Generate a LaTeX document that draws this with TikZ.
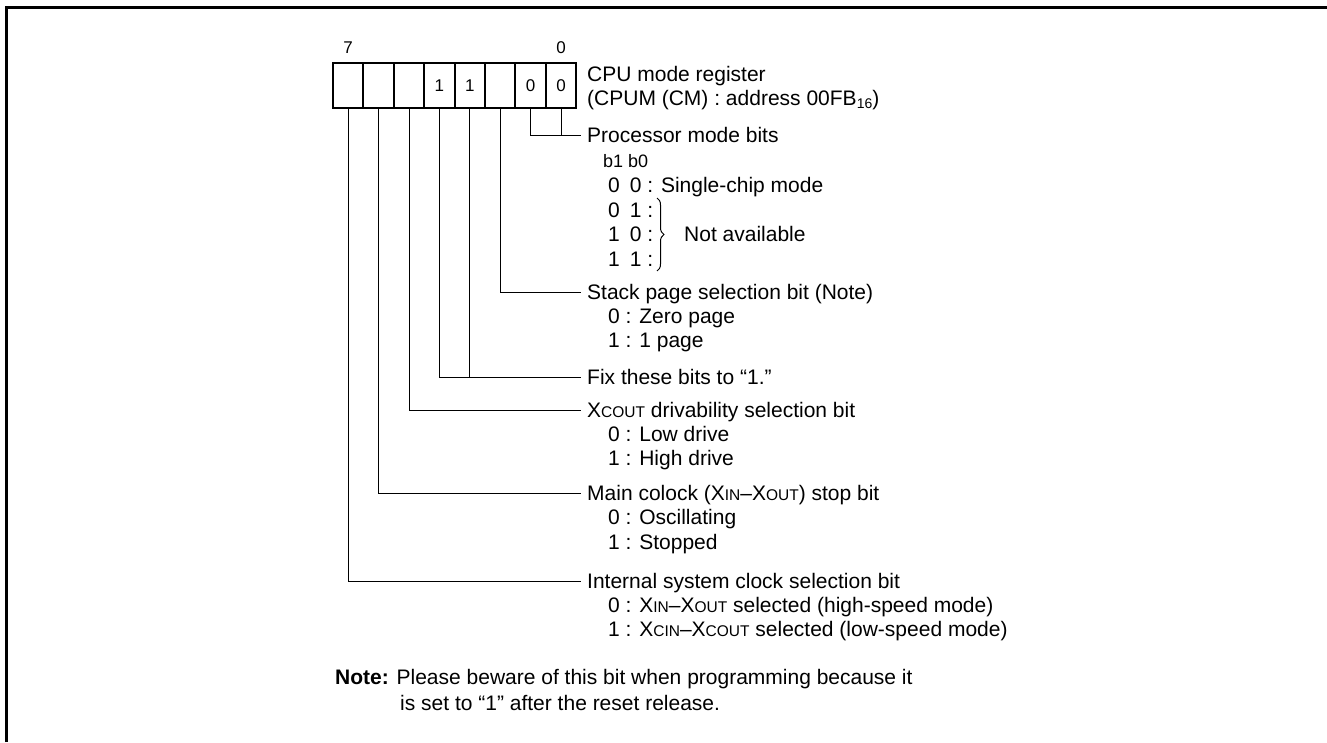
\documentclass[tikz,border=0pt]{standalone}
\usepackage{fontspec}
\setmainfont{Liberation Sans}
\usetikzlibrary{decorations.pathreplacing}
\newcommand\smc[1]{{\fontsize{15.5pt}{15.5pt}\selectfont #1}}
\newcommand\subn[1]{\raisebox{-3pt}{\fontsize{14pt}{14pt}\selectfont #1}}
\newcommand\dg{\hspace{10pt}}
\begin{document}
\begin{tikzpicture}[x=1pt,y=-1pt,
  lbl/.style={anchor=west, inner xsep=6pt, inner ysep=0pt, text height=15pt, text depth=0pt, font=\fontsize{21pt}{24pt}\selectfont},
  smlbl/.style={anchor=west, inner xsep=6pt, inner ysep=0pt, text height=13pt, text depth=0pt, font=\fontsize{18pt}{20pt}\selectfont},
  cell/.style={draw, line width=2pt, minimum width=30.4pt, minimum height=45.5pt, inner sep=0pt, outer sep=0pt, font=\fontsize{17pt}{17pt}\selectfont},
  bitlab/.style={inner sep=0pt, font=\fontsize{17pt}{17pt}\selectfont},
  lead/.style={line width=1pt},
  frame/.style={line width=3pt}]
\useasboundingbox (0,0) rectangle (1327,742);
% outer frame
\draw[frame] (6.5,742) -- (6.5,7.5) -- (1327,7.5);
% register
\node[cell] (c7) at (348.2,85.5) {};
\node[cell] (c6) at (378.6,85.5) {};
\node[cell] (c5) at (409.0,85.5) {};
\node[cell] (c4) at (439.4,85.5) {1};
\node[cell] (c3) at (469.8,85.5) {1};
\node[cell] (c2) at (500.2,85.5) {};
\node[cell] (c1) at (530.6,85.5) {0};
\node[cell] (c0) at (561.0,85.5) {0};
\node[bitlab] (l7) at (348.2,48) {7};
\node[bitlab] (l0) at (561.0,48) {0};
% texts
\node[lbl] (cpu1) at (581,73.5) {CPU mode register};
\node[lbl] (cpu2) at (581,97.5) {(CPUM (CM) : address 00FB\subn{16})};
\node[lbl] (proc) at (581,135) {Processor mode bits};
\node[smlbl] (bb) at (597,161) {b1 b0};
\node[lbl] (m00) at (602,185) {0\dg0 : Single-chip mode};
\node[lbl] (m01) at (602,209.5) {0\dg1 :};
\node[lbl] (m10) at (602,234) {1\dg0 :};
\node[lbl] (m11) at (602,258.5) {1\dg1 :};
\draw[lead, decorate, decoration={brace, amplitude=7pt}] (657,198) -- (657,271);
\node[lbl] (na) at (678,234) {Not available};
\node[lbl] (stack) at (581,292) {Stack page selection bit (Note)};
\node[lbl] (s0) at (602,315.5) {0 : Zero page};
\node[lbl] (s1) at (602,340) {1 : 1 page};
\node[lbl] (fix) at (581,377) {Fix these bits to “1.”};
\node[lbl] (xc) at (581,410) {X\smc{COUT} drivability selection bit};
\node[lbl] (x0) at (602,433.5) {0 : Low drive};
\node[lbl] (x1) at (602,458) {1 : High drive};
\node[lbl] (mn) at (581,493) {Main colock (X\smc{IN}–X\smc{OUT}) stop bit};
\node[lbl] (mn0) at (602,517) {0 : Oscillating};
\node[lbl] (mn1) at (602,541.5) {1 : Stopped};
\node[lbl] (intl) at (581,581) {Internal system clock selection bit};
\node[lbl] (i0) at (602,604.5) {0 : X\smc{IN}–X\smc{OUT} selected (high-speed mode)};
\node[lbl] (i1) at (602,628.5) {1 : X\smc{CIN}–X\smc{COUT} selected (low-speed mode)};
\node[lbl] (note) at (329,677) {\textbf{Note:} Please beware of this bit when programming because it};
\node[lbl] (note2) at (394,703) {is set to “1” after the reset release.};
% leaders
\draw[lead] (c1.south) |- (proc.west);
\draw[lead] (c0.south) -- (c0.south |- proc.west);
\draw[lead] (c2.south) |- (stack.west);
\draw[lead] (c4.south) |- (fix.west);
\draw[lead] (c3.south) -- (c3.south |- fix.west);
\draw[lead] (c5.south) |- (xc.west);
\draw[lead] (c6.south) |- (mn.west);
\draw[lead] (c7.south) |- (intl.west);
\end{tikzpicture}
\end{document}
